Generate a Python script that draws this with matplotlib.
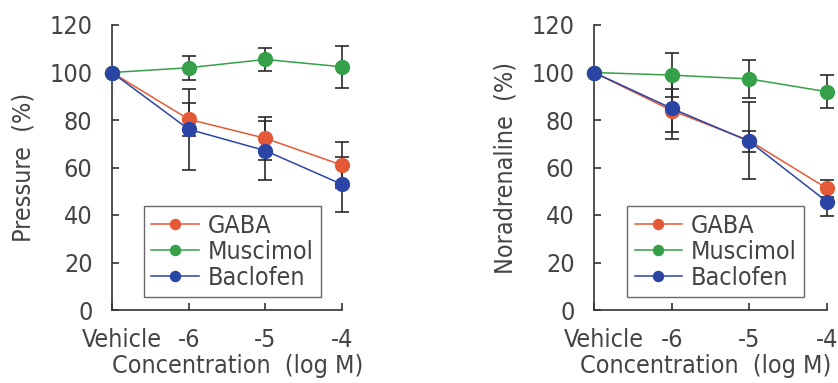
import matplotlib
matplotlib.use("Agg")
import matplotlib.pyplot as plt
import matplotlib.transforms as mtransforms

plt.rcParams['font.family'] = ['DejaVu Sans']
plt.rcParams['font.stretch'] = 'condensed'

# ---- data ----
x_labels = ['Vehicle', '-6', '-5', '-4']
series_names = ['GABA', 'Muscimol', 'Baclofen']

pressure_gaba = [100, 80.3, 72.3, 61.0]
pressure_gaba_err = [0, 7.0, 9.0, 9.6]
pressure_musc = [100, 102.0, 105.5, 102.4]
pressure_musc_err = [0, 5.0, 5.0, 8.8]
pressure_bacl = [100, 76.1, 67.1, 52.9]
pressure_bacl_err = [0, 17.0, 12.5, 11.5]

nor_gaba = [100, 84.0, 71.3, 51.2]
nor_gaba_err = [0, 9.0, 16.3, 3.5]
nor_musc = [100, 98.9, 97.3, 91.9]
nor_musc_err = [0, 9.2, 8.0, 7.0]
nor_bacl = [100, 84.9, 71.0, 45.6]
nor_bacl_err = [0, 13.0, 4.4, 6.0]

colors = ['#E45A36', '#36A048', '#2A45A3']
text_color = '#444444'
FS = 18
W, H = 838, 383

fig = plt.figure(figsize=(W / 100, H / 100), dpi=100)


def panel(left_px, right_px, ylabel, vals, errs, leg_x, xlabel_x):
    ax = fig.add_axes([left_px / W, 1 - 310 / H, (right_px - left_px) / W, 285 / H])
    xs = list(range(len(x_labels)))
    for v, e in zip(vals, errs):
        ax.errorbar(xs, v, yerr=e, fmt='none', ecolor='#2a2a2a', elinewidth=1.2,
                    capsize=5, capthick=1.2, zorder=2, clip_on=False)
    for v, c, n in zip(vals, colors, series_names):
        ax.plot(xs, v, '-', color=c, lw=1.1, marker='o', markersize=11,
                markeredgewidth=0, label=n, zorder=3, clip_on=False)
    ax.set_xlim(0, 3)
    ax.set_ylim(0, 120)
    ax.set_yticks([0, 20, 40, 60, 80, 100, 120])
    ax.set_xticks(xs)
    ax.set_xticklabels(x_labels)
    for s in ['top', 'right']:
        ax.spines[s].set_visible(False)
    for s in ['left', 'bottom']:
        ax.spines[s].set_color('#333333')
        ax.spines[s].set_linewidth(1.2)
    ax.tick_params(axis='both', direction='in', length=5, width=1.2, color='#333333',
                   labelsize=FS, labelcolor=text_color)
    ax.tick_params(axis='y', pad=14)
    ax.tick_params(axis='x', pad=13)
    lbl = ax.get_xticklabels()[0]
    lbl.set_transform(lbl.get_transform() + mtransforms.ScaledTranslation(10 / 100, 0, fig.dpi_scale_trans))
    ax.set_ylabel(ylabel, fontsize=FS, color=text_color, labelpad=10)
    ax.set_xlabel('Concentration  (log M)', fontsize=FS, color=text_color)
    ax.xaxis.set_label_coords(xlabel_x, -0.155)
    leg = ax.legend(loc='lower left', bbox_to_anchor=(leg_x, 0.045), borderaxespad=0,
                    fontsize=FS, frameon=True, fancybox=False, handlelength=1.9,
                    handletextpad=0.35, labelspacing=0.08, borderpad=0.3,
                    markerscale=0.75)
    leg.get_frame().set_edgecolor('#444444')
    leg.get_frame().set_linewidth(1.0)
    for t in leg.get_texts():
        t.set_color(text_color)
    return ax


panel(112, 342, 'Pressure  (%)',
      [pressure_gaba, pressure_musc, pressure_bacl],
      [pressure_gaba_err, pressure_musc_err, pressure_bacl_err], 0.139, 0.545)
panel(594, 827, 'Noradrenaline  (%)',
      [nor_gaba, nor_musc, nor_bacl],
      [nor_gaba_err, nor_musc_err, nor_bacl_err], 0.142, 0.48)

fig.savefig('out.png', dpi=100)
